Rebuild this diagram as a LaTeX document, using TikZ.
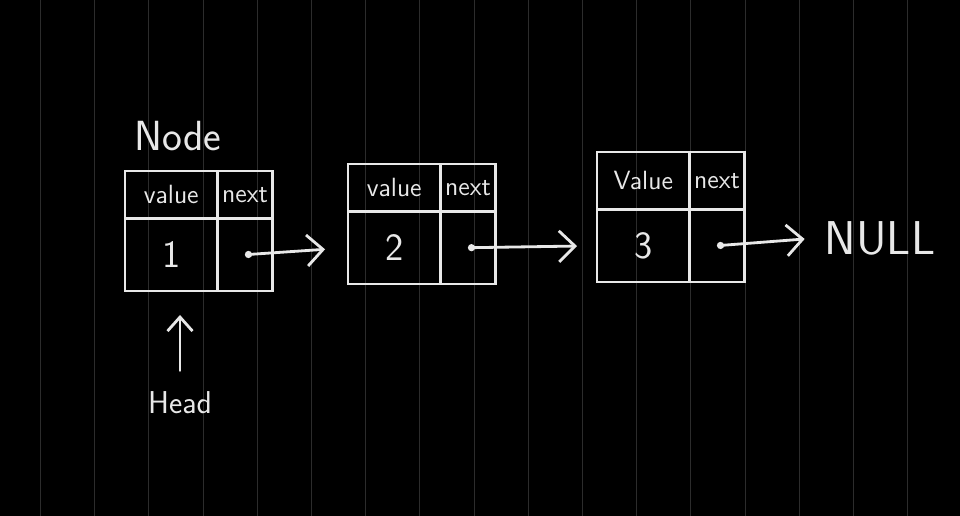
\documentclass[tikz,border=0pt]{standalone}
\usepackage{tikz}
\usetikzlibrary{arrows.meta,positioning,calc}
\definecolor{chalk}{RGB}{232,232,232}
\definecolor{gridgray}{RGB}{44,44,44}

\begin{document}
\begin{tikzpicture}[
  x=0.02cm, y=-0.02cm,
  line width=1.6pt,
  vhdr/.style={draw=chalk, text=chalk, font=\sffamily\fontsize{15}{15}\selectfont,
               minimum width=1.85cm, minimum height=0.95cm, outer sep=0pt, inner sep=0pt},
  nhdr/.style={vhdr, minimum width=1.1cm},
  vcell/.style={draw=chalk, text=chalk, font=\sffamily\fontsize{22}{22}\selectfont,
                minimum width=1.85cm, minimum height=1.45cm, outer sep=0pt, inner sep=0pt},
  ncell/.style={vcell, minimum width=1.1cm},
  lbl/.style={text=chalk, font=\sffamily\fontsize{24}{24}\selectfont},
  nxt/.style={draw=chalk, line cap=round,
              {Circle[length=4pt]}-{Straight Barb[length=0.32cm, width=0.62cm]}},
  gridln/.style={draw=gridgray, line width=0.55pt}
]
% Board
\fill[black] (0,0) rectangle (960,516);
\useasboundingbox (0,0) rectangle (960,516);
\foreach \i in {0,...,16}
  \draw[gridln] ({40.5+54.2*\i},0) -- ++(0,516);
% Node 1
\node[vhdr, anchor=north west] (h1) at (125,171) {value};
\node[nhdr, right=0pt of h1] (x1) {next};
\node[vcell, below=0pt of h1] (v1) {1};
\node[ncell, right=0pt of v1] (p1) {};
% Node 2
\node[vhdr, anchor=north west] (h2) at (348,164) {value};
\node[nhdr, right=0pt of h2] (x2) {next};
\node[vcell, below=0pt of h2] (v2) {2};
\node[ncell, right=0pt of v2] (p2) {};
% Node 3
\node[vhdr, anchor=north west, minimum height=1.15cm] (h3) at (597,152) {Value};
\node[nhdr, right=0pt of h3, minimum height=1.15cm] (x3) {next};
\node[vcell, below=0pt of h3] (v3) {3};
\node[ncell, right=0pt of v3] (p3) {};
% Labels
\node[lbl] (title) at (178,136) {Node};
\node[lbl, font=\sffamily\fontsize{18}{18}\selectfont] (head) at (180,403) {Head};
\node[lbl, font=\sffamily\fontsize{27}{27}\selectfont] (null) at (880,238) {NULL};
% Pointers
\draw[nxt, shorten >=0.46cm] (p1.center) -- (v2.west);
\draw[nxt, shorten >=0.40cm] (p2.center) -- (v3.west);
\draw[nxt, shorten >=0.26cm] (p3.center) -- (null.west);
\draw[draw=chalk, line cap=round, -{Straight Barb[length=0.28cm, width=0.5cm]},
      shorten <=0.28cm, shorten >=0.48cm] (head.north) -- (head.north |- v1.south);
\end{tikzpicture}
\end{document}
